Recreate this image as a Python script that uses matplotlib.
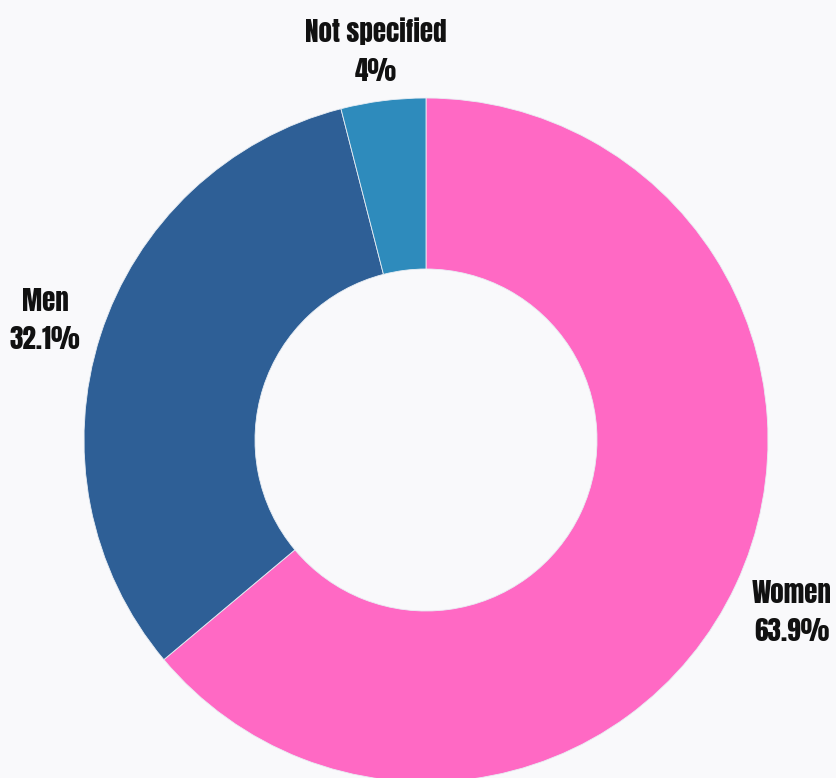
import matplotlib
matplotlib.use("Agg")
import matplotlib.pyplot as plt

categories = ["Women", "Men", "Not specified"]
values = [63.9, 32.1, 4.0]
value_labels = ["63.9%", "32.1%", "4%"]
colors = ["#FF69C4", "#2E5F96", "#2E8BBC"]

W, H = 836, 778
fig = plt.figure(figsize=(W / 100, H / 100), dpi=100)
fig.patch.set_facecolor("#F9F9FB")
ax = fig.add_axes([0, 0, 1, 1])
ax.set_facecolor("#F9F9FB")

cx, cy, R = 426, H - 440, 342
wedges, _ = ax.pie(values, colors=colors, startangle=90, counterclock=False,
                   center=(cx, cy), radius=R,
                   wedgeprops=dict(width=R * 0.5, edgecolor="#E8EEF4", linewidth=0.6))
ax.set_xlim(0, W)
ax.set_ylim(0, H)
ax.axis("off")

label_pos = [(792, H - 612), (45, H - 320), (376, H - 51)]
for (x, y), c, v in zip(label_pos, categories, value_labels):
    ax.text(x, y, f"{c}\n{v}", ha="center", va="center", fontsize=19.5,
            fontfamily="Anton", linespacing=1.55, color="#111111")

fig.savefig("out.png", dpi=100, facecolor=fig.get_facecolor())
